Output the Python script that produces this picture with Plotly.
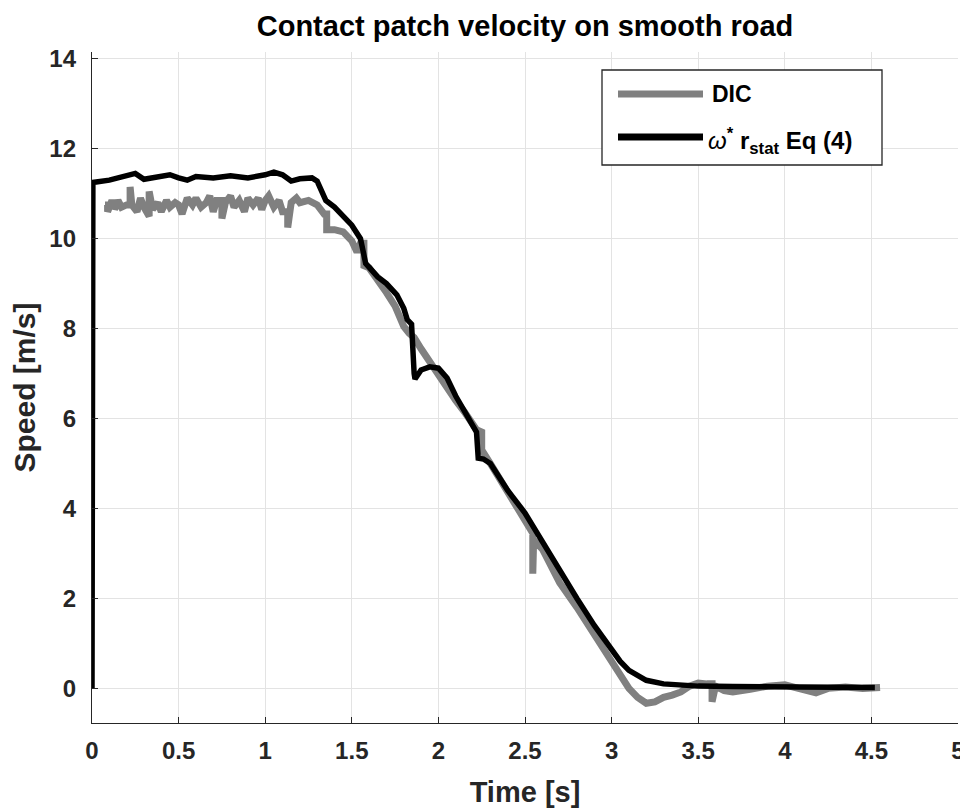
# Contact patch velocity on smooth road - DIC vs omega*r_stat

import plotly.graph_objects as go

dic_t = [0.075, 0.09, 0.09, 0.11, 0.13, 0.13, 0.15, 0.17, 0.2, 0.22, 0.22, 0.23,
         0.26, 0.28, 0.3, 0.32, 0.33, 0.33, 0.35, 0.38, 0.4, 0.43, 0.45, 0.48,
         0.5, 0.52, 0.55, 0.58, 0.6, 0.63, 0.66, 0.68, 0.7, 0.72, 0.75, 0.75,
         0.77, 0.8, 0.82, 0.85, 0.88, 0.9, 0.93, 0.96, 0.98, 1.0, 1.02, 1.05,
         1.08, 1.1, 1.13, 1.13, 1.15, 1.18, 1.2, 1.25, 1.3, 1.34, 1.355, 1.355,
         1.4, 1.45, 1.5, 1.53, 1.55, 1.57, 1.57, 1.6, 1.65, 1.7, 1.75, 1.8,
         1.83, 1.86, 1.9, 1.95, 2.0, 2.05, 2.1, 2.15, 2.2, 2.22, 2.25, 2.25,
         2.3, 2.4, 2.5, 2.53, 2.545, 2.545, 2.55, 2.6, 2.7, 2.8, 2.9, 3.0,
         3.05, 3.1, 3.15, 3.2, 3.25, 3.3, 3.35, 3.4, 3.45, 3.5, 3.55, 3.58,
         3.58, 3.6, 3.65, 3.7, 3.8, 3.9, 4.0, 4.1, 4.18, 4.25, 4.35, 4.45, 4.55]
dic_v = [10.75, 10.75, 10.6, 10.8, 10.8, 10.65, 10.85, 10.7, 10.75, 10.75, 11.15, 10.75,
         10.6, 10.9, 10.7, 10.5, 10.5, 11.05, 10.65, 10.8, 10.6, 10.85, 10.7, 10.8,
         10.75, 10.55, 10.9, 10.75, 10.9, 10.7, 10.8, 10.95, 10.6, 10.85, 10.85, 10.45,
         10.8, 10.95, 10.7, 10.85, 10.6, 10.9, 10.75, 10.9, 10.65, 10.85, 10.95, 10.7,
         10.85, 10.6, 10.6, 10.25, 10.8, 10.9, 10.8, 10.85, 10.75, 10.55, 10.55, 10.2,
         10.2, 10.15, 9.95, 9.7, 9.9, 9.9, 9.4, 9.35, 9.1, 8.8, 8.5, 8.05,
         7.9, 7.8, 7.55, 7.25, 7.0, 6.7, 6.4, 6.15, 5.9, 5.75, 5.7, 5.3,
         5.0, 4.35, 3.7, 3.5, 3.45, 2.55, 3.3, 3.1, 2.35, 1.8, 1.2, 0.6,
         0.25, 0.0, -0.2, -0.33, -0.3, -0.2, -0.15, -0.08, 0.05, 0.12, 0.1, 0.1,
         -0.3, 0.05, -0.05, -0.08, -0.02, 0.05, 0.08, -0.03, -0.1, 0.0, 0.03, 0.0, 0.02]

# omega * r_stat, Eq (4) (black)
eq_t = [0, 0.005, 0.1, 0.2, 0.25, 0.3, 0.4, 0.45, 0.5, 0.55, 0.6, 0.7, 0.8, 0.9,
        1.0, 1.05, 1.1, 1.15, 1.2, 1.27, 1.3, 1.35, 1.4, 1.45, 1.5, 1.55, 1.565,
        1.58, 1.65, 1.7, 1.76, 1.8, 1.82, 1.845, 1.86, 1.865, 1.9, 1.95, 2.0,
        2.05, 2.1, 2.15, 2.2, 2.22, 2.23, 2.26, 2.3, 2.4, 2.5, 2.6, 2.7, 2.8,
        2.9, 3.0, 3.05, 3.1, 3.15, 3.2, 3.3, 3.4, 3.5, 3.7, 4.0, 4.3, 4.52]
eq_v = [0, 11.25, 11.3, 11.38, 11.45, 11.32, 11.4, 11.42, 11.35, 11.3, 11.38, 11.35,
        11.4, 11.35, 11.42, 11.48, 11.42, 11.28, 11.33, 11.35, 11.28, 10.85, 10.7,
        10.5, 10.3, 10.0, 9.75, 9.45, 9.15, 9.0, 8.75, 8.45, 8.2, 8.1, 7.0, 6.88,
        7.08, 7.15, 7.12, 6.9, 6.5, 6.15, 5.8, 5.7, 5.12, 5.1, 5.0, 4.4, 3.9,
        3.25, 2.6, 2.0, 1.4, 0.85, 0.6, 0.4, 0.28, 0.18, 0.1, 0.07, 0.05, 0.04,
        0.03, 0.03, 0.02]

x_ticks = [0, 0.5, 1, 1.5, 2, 2.5, 3, 3.5, 4, 4.5, 5]
x_labels = ["0", "0.5", "1", "1.5", "2", "2.5", "3", "3.5", "4", "4.5", "5"]
y_ticks = [0, 2, 4, 6, 8, 10, 12, 14]

FONT = "Liberation Sans, Arial, sans-serif"
AX = "#262626"

fig = go.Figure()
fig.add_trace(go.Scatter(x=dic_t, y=dic_v, mode="lines", name="DIC",
                         line=dict(color="#808080", width=7)))
fig.add_trace(go.Scatter(x=eq_t, y=eq_v, mode="lines", name="omega r_stat",
                         line=dict(color="#000000", width=5.5)))

# page body has an 8px margin, so the figure is 960x803 drawn from (8, 8)
OFF = 8
W, H = 968 - OFF, 811 - OFF
# plot area in window pixels: left 92, right 958, top 52, bottom 723
L, R, T, B = 92, 958, 52, 723
def px(x):
    return (x - L) / (R - L)
def py(y):
    return (B - y) / (B - T)

# MATLAB style legend box
fig.add_shape(type="rect", xref="paper", yref="paper",
              x0=px(602), x1=px(882), y0=py(165), y1=py(70),
              line=dict(color=AX, width=1.3), fillcolor="white", layer="above")
fig.add_shape(type="line", xref="paper", yref="paper",
              x0=px(618), x1=px(703), y0=py(94), y1=py(94),
              line=dict(color="#808080", width=7), layer="above")
fig.add_shape(type="line", xref="paper", yref="paper",
              x0=px(618), x1=px(703), y0=py(137), y1=py(137),
              line=dict(color="#000000", width=7), layer="above")
fig.add_annotation(xref="paper", yref="paper", x=px(710), y=py(94),
                   xanchor="left", yanchor="middle", showarrow=False,
                   text="DIC", font=dict(family=FONT, size=23, color="#000", weight="bold"))
fig.add_annotation(xref="paper", yref="paper", x=px(706), y=py(141),
                   xanchor="left", yanchor="middle", showarrow=False,
                   text="<span style='font-weight:normal'><i>ω</i></span><sup>*</sup> r<sub>stat</sub> Eq (4)",
                   font=dict(family=FONT, size=24, color="#000", weight="bold"))

fig.update_layout(
    width=W, height=H,
    margin=dict(l=L - OFF, r=968 - R, t=T - OFF, b=811 - B, autoexpand=False),
    paper_bgcolor="white", plot_bgcolor="white",
    showlegend=False,
    title=dict(text="Contact patch velocity on smooth road", x=(525 - OFF) / W,
               xanchor="center", y=1 - (26 - OFF) / H, yanchor="middle", yref="container",
               font=dict(family=FONT, size=29, color="#000", weight="bold")),
)
fig.update_xaxes(
    range=[0, 5], tickvals=x_ticks, ticktext=x_labels, automargin=False,
    showline=True, linecolor=AX, linewidth=1.3, mirror=False,
    ticks="inside", ticklen=6, tickcolor=AX, tickwidth=1.3,
    showgrid=True, gridcolor="#e3e3e3", gridwidth=1, zeroline=False,
    tickfont=dict(family=FONT, size=24, color=AX, weight="bold"),
    ticklabelstandoff=6,
    title=dict(text="Time [s]", standoff=18,
               font=dict(family=FONT, size=29, color=AX, weight="bold")),
)
fig.update_yaxes(
    range=[-0.77, 14.15], tickvals=y_ticks, automargin=False,
    showline=True, linecolor=AX, linewidth=1.3, mirror=False,
    ticks="inside", ticklen=6, tickcolor=AX, tickwidth=1.3,
    showgrid=True, gridcolor="#e3e3e3", gridwidth=1, zeroline=False,
    tickfont=dict(family=FONT, size=24, color=AX, weight="bold"),
    ticklabelstandoff=10,
    title=dict(text="Speed [m/s]", standoff=14,
               font=dict(family=FONT, size=30, color=AX, weight="bold")),
)

fig.write_html("out.html")
